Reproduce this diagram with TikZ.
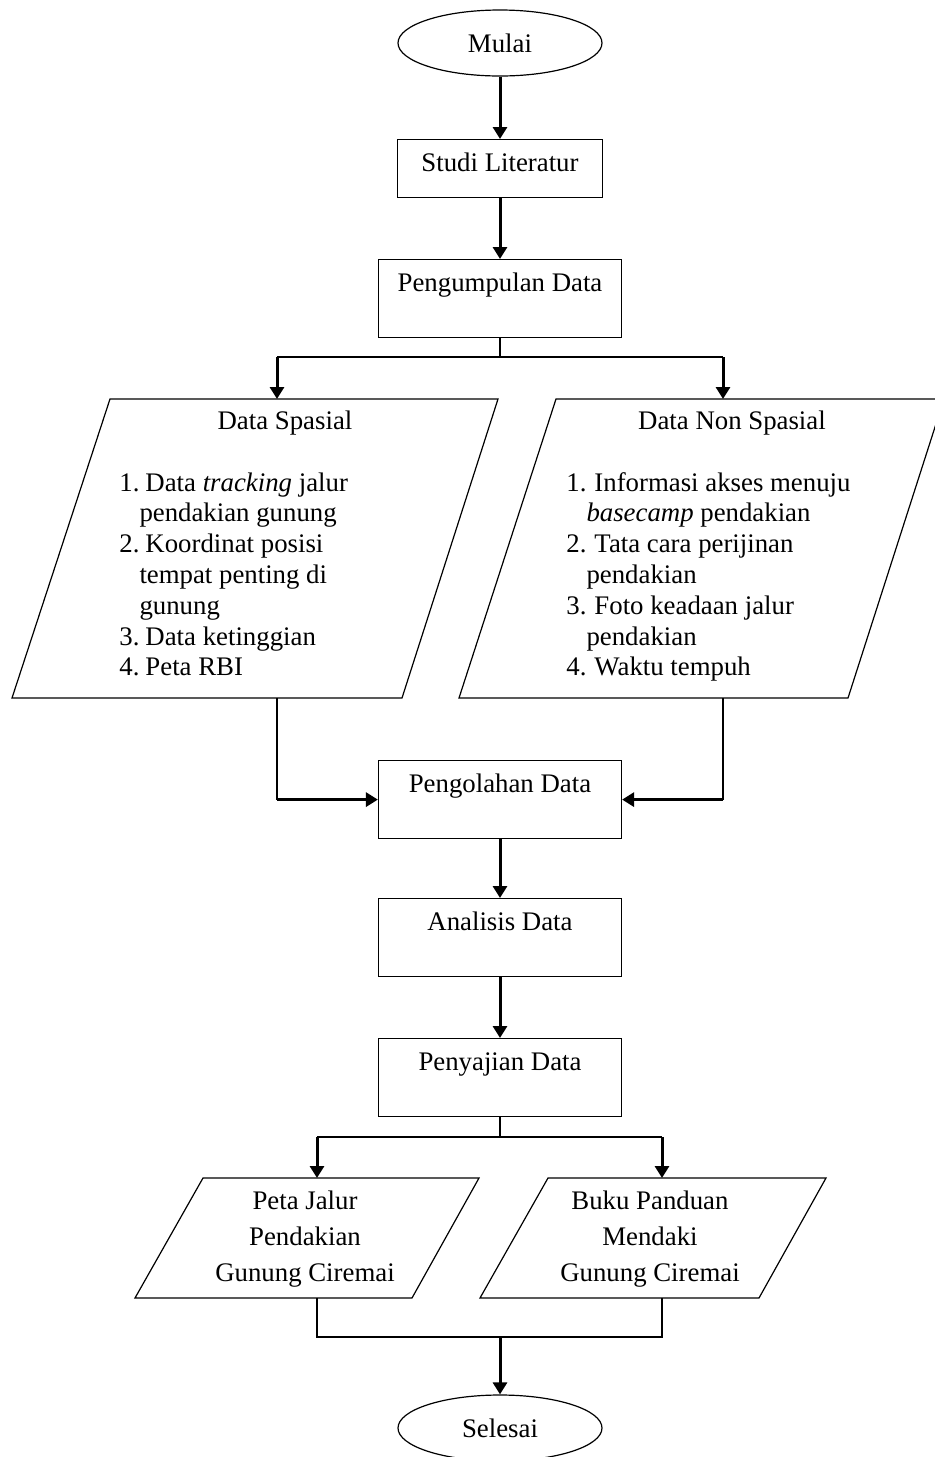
\documentclass[tikz,border=0pt]{standalone}
\usepackage{fontspec}
\setmainfont{Liberation Serif}
\usepackage{tikz}
\usetikzlibrary{shapes.geometric, arrows.meta, positioning, calc}

\newcommand{\teks}{\fontsize{13.4}{15.4}\selectfont}

\begin{document}
\begin{tikzpicture}[x=0.5pt, y=-0.5pt,
  garis/.style={line width=0.6pt},
  panah/.style={line width=1.5pt, -{Triangle[length=6pt, width=7pt]}},
  ujung/.style={draw, ellipse, line width=0.6pt, minimum width=102pt, minimum height=33pt, inner sep=0pt, font=\teks},
  proses/.style={draw, rectangle, line width=0.6pt, anchor=north, minimum width=121.5pt, inner ysep=0pt, text height=16pt, text depth=23pt, font=\teks},
  judul/.style={anchor=base, inner sep=0pt, font=\teks},
  daftar/.style={anchor=base west, inner sep=0pt, font=\teks},
  hasil/.style={align=center, inner sep=0pt, font=\fontsize{13.4}{18}\selectfont}
]

\useasboundingbox (0,0) rectangle (935,1457);

\node[ujung] (mulai) at (500,43) {Mulai};
\node[proses, minimum width=102.5pt, text depth=13pt] (studi) at (500,139) {Studi Literatur};
\node[proses] (kumpul) at (500,259) {Pengumpulan Data};

\draw[garis] (110,399) -- (498,399) -- (402,698) -- (12,698) -- cycle;
\draw[garis] (556,399) -- (944,399) -- (848,698) -- (459,698) -- cycle;

\node[judul] (spasial) at (285,429) {Data Spasial};
\node[judul] (nonspasial) at (732,429) {Data Non Spasial};

\node[daftar] (spasialisi) at (119,491) {\begin{tabular}[t]{@{}l@{\hspace{3pt}}l@{}}
1. & Data \textit{tracking} jalur\\
   & \hspace{-3pt}pendakian gunung\\
2. & Koordinat posisi\\
   & \hspace{-3pt}tempat penting di\\
   & \hspace{-3pt}gunung\\
3. & Data ketinggian\\
4. & Peta RBI
\end{tabular}};
\node[daftar] (nonspasialisi) at (566,491) {\begin{tabular}[t]{@{}l@{\hspace{4pt}}l@{}}
1. & Informasi akses menuju\\
   & \hspace{-4pt}\textit{basecamp} pendakian\\
2. & Tata cara perijinan\\
   & \hspace{-4pt}pendakian\\
3. & Foto keadaan jalur\\
   & \hspace{-4pt}pendakian\\
4. & Waktu tempuh
\end{tabular}};

\coordinate (cabangA) at (500,357);
\coordinate (spasialIn) at (277,399);
\coordinate (spasialOut) at (277,698);
\coordinate (nonIn) at (723,399);
\coordinate (nonOut) at (723,698);

\node[proses] (olah) at (500,760) {Pengolahan Data};
\node[proses] (analisis) at (500,898) {Analisis Data};
\node[proses] (saji) at (500,1038) {Penyajian Data};

\draw[garis] (203,1178) -- (479,1178) -- (412,1298) -- (135,1298) -- cycle;
\draw[garis] (548,1178) -- (826,1178) -- (759,1298) -- (480,1298) -- cycle;

\node[hasil] (peta) at (305,1239) {Peta Jalur\\Pendakian\\Gunung Ciremai};
\node[hasil] (buku) at (650,1239) {Buku Panduan\\Mendaki\\Gunung Ciremai};

\coordinate (cabangB) at (500,1137);
\coordinate (petaIn) at (317,1178);
\coordinate (petaOut) at (317,1298);
\coordinate (bukuIn) at (662,1178);
\coordinate (bukuOut) at (662,1298);
\coordinate (gabung) at (500,1337);

\node[ujung] (selesai) at (500,1428) {Selesai};

\draw[panah] (mulai) -- (studi);
\draw[panah] (studi) -- (kumpul);

\draw[garis] (kumpul.south) -- (cabangA);
\draw[garis] (spasialIn |- cabangA) -- (nonIn |- cabangA);
\draw[panah] (spasialIn |- cabangA) -- (spasialIn);
\draw[panah] (nonIn |- cabangA) -- (nonIn);

\draw[garis] (spasialOut) -- (spasialOut |- olah.west);
\draw[panah] (spasialOut |- olah.west) -- (olah.west);
\draw[garis] (nonOut) -- (nonOut |- olah.east);
\draw[panah] (nonOut |- olah.east) -- (olah.east);

\draw[panah] (olah) -- (analisis);
\draw[panah] (analisis) -- (saji);

\draw[garis] (saji.south) -- (cabangB);
\draw[garis] (petaIn |- cabangB) -- (bukuIn |- cabangB);
\draw[panah] (petaIn |- cabangB) -- (petaIn);
\draw[panah] (bukuIn |- cabangB) -- (bukuIn);

\draw[garis] (petaOut) -- (petaOut |- gabung) -- (bukuOut |- gabung) -- (bukuOut);
\draw[panah] (gabung) -- (selesai);

\end{tikzpicture}
\end{document}
